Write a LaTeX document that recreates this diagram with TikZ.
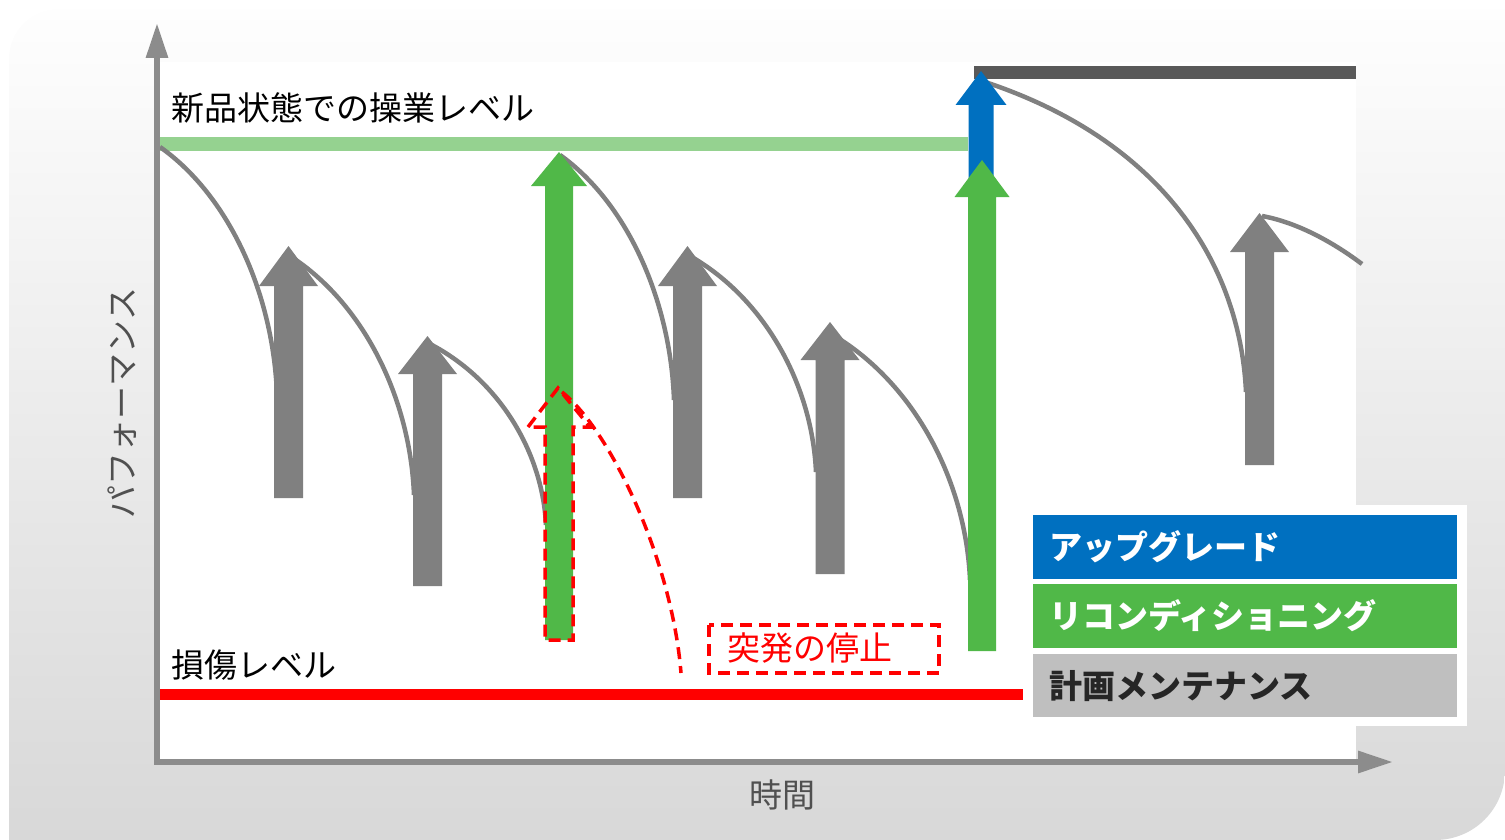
\documentclass[tikz,border=0pt]{standalone}
\usepackage{fontspec}
\setmainfont{Noto Sans CJK JP}
\usetikzlibrary{arrows.meta}
\definecolor{bgtop}{HTML}{FEFEFE}
\definecolor{bgbot}{HTML}{D8D8D8}
\definecolor{axisgray}{HTML}{8C8C8C}
\definecolor{arrgray}{HTML}{808080}
\definecolor{darkline}{HTML}{595959}
\definecolor{lightgreen}{HTML}{95D290}
\definecolor{mygreen}{HTML}{50B848}
\definecolor{myblue}{HTML}{0070C0}
\definecolor{leggray}{HTML}{BFBFBF}
\definecolor{labgray}{HTML}{505050}
\definecolor{legdark}{HTML}{262626}
\newcommand{\blockarr}[8]{% color, cx, bottom, head base, tip, shaft half, head half
  \fill[#1] (#2-#6,#3) -- (#2-#6,#4) -- (#2-#7,#4) -- (#2,#5) -- (#2+#7,#4) -- (#2+#6,#4) -- (#2+#6,#3) -- cycle;}
\tikzset{
  perfcurve/.style={draw=arrgray, line width=4.5pt},
  reddash/.style={draw=red, line width=3.5pt, dash pattern=on 12pt off 7pt},
  jplabel/.style={font=\fontsize{33}{40}\selectfont, inner sep=0pt},
  legtext/.style={font=\fontsize{33}{40}\selectfont\bfseries, inner sep=0pt, anchor=west},
}
\begin{document}
\begin{tikzpicture}[x=1pt,y=-1pt]
\useasboundingbox (0,0) rectangle (1505,840);
% background
\shade[top color=bgtop, bottom color=bgbot] (9,840) -- (9,59) .. controls (9,31) and (31,9) .. (59,9) -- (1505,9) -- (1505,770) .. controls (1505,809) and (1474,840) .. (1435,840) -- cycle;
\fill[white] (157,62) rectangle (1356,762);
\fill[white] (1023,505) rectangle (1467,726);
% level lines
\fill[lightgreen] (160,137) rectangle (968,151);
\fill[darkline] (974,66) rectangle (1356,79);
\fill[red] (160,689) rectangle (1023,700);
% degradation curves
\draw[perfcurve] (160,147) .. controls (230.2,196.6) and (273.5,295.8) .. (277,395);
\draw[perfcurve] (290,256) .. controls (364.4,303.8) and (410.3,399.4) .. (414,495);
\draw[perfcurve] (430,344) .. controls (499.6,380.2) and (542.5,452.6) .. (546,525);
\draw[perfcurve] (560,155) .. controls (628.4,204) and (670.6,302) .. (674,400);
\draw[perfcurve] (690,256) .. controls (765.6,299.2) and (812.2,385.6) .. (816,472);
\draw[perfcurve] (833,335) .. controls (915.2,384) and (965.9,482) .. (970,580);
\draw[perfcurve] (985,82) .. controls (1160,140) and (1240,262) .. (1246,392);
\draw[perfcurve] (1262,216) .. controls (1295,222) and (1330,240) .. (1362,264);
% maintenance arrows
\blockarr{arrgray}{288.5}{498}{286}{246}{14.5}{29.5}{}
\blockarr{arrgray}{427.5}{586}{374}{336}{14.5}{29.5}{}
\blockarr{mygreen}{559}{640}{186}{152}{14}{28}{}
\blockarr{arrgray}{687.5}{498}{286}{246}{14.5}{29.5}{}
\blockarr{arrgray}{830}{574}{360}{322}{14.5}{29.5}{}
\blockarr{myblue}{981}{250}{105}{71}{12.5}{25.5}{}
\blockarr{mygreen}{982}{651}{197}{160}{14}{27.5}{}
\blockarr{arrgray}{1259.5}{465}{252}{213}{14.5}{29.5}{}
% sudden stop
\draw[reddash] (528,427) -- (558,388) -- (590,427) -- (573,427) -- (573,640) -- (545,640) -- (545,427) -- cycle;
\draw[reddash] (562,392) .. controls (610,430) and (672,560) .. (681,673);
\draw[reddash] (709,625) rectangle (939,673);
\node[jplabel, text=red, anchor=west] (stop) at (727,648) {突発の停止};
% labels
\node[jplabel, anchor=west] (newlevel) at (171,107.5) {新品状態での操業レベル};
\node[jplabel, anchor=west] (damage) at (171,665.5) {損傷レベル};
\node[jplabel, text=labgray] (time) at (782,795) {時間};
\node[jplabel, text=labgray, rotate=90] (perf) at (122,403) {パフォーマンス};
% legend
\fill[myblue] (1033,515) rectangle (1457,579);
\fill[mygreen] (1033,584) rectangle (1457,648);
\fill[leggray] (1033,654) rectangle (1457,717);
\node[legtext, text=white] (lup) at (1049,547) {アップグレード};
\node[legtext, text=white] (lrc) at (1049,616) {リコンディショニング};
\node[legtext, text=legdark] (lpm) at (1049,686) {計画メンテナンス};
% axes
\coordinate (ytip) at (157,23);
\coordinate (origin) at (157,762);
\coordinate (xtip) at (1393,762);
\draw[draw=axisgray, line width=6pt, {Triangle[length=35pt,width=21pt]}-{Triangle[length=35pt,width=21pt]}] (ytip) -- (origin) -- (xtip);
\end{tikzpicture}
\end{document}
